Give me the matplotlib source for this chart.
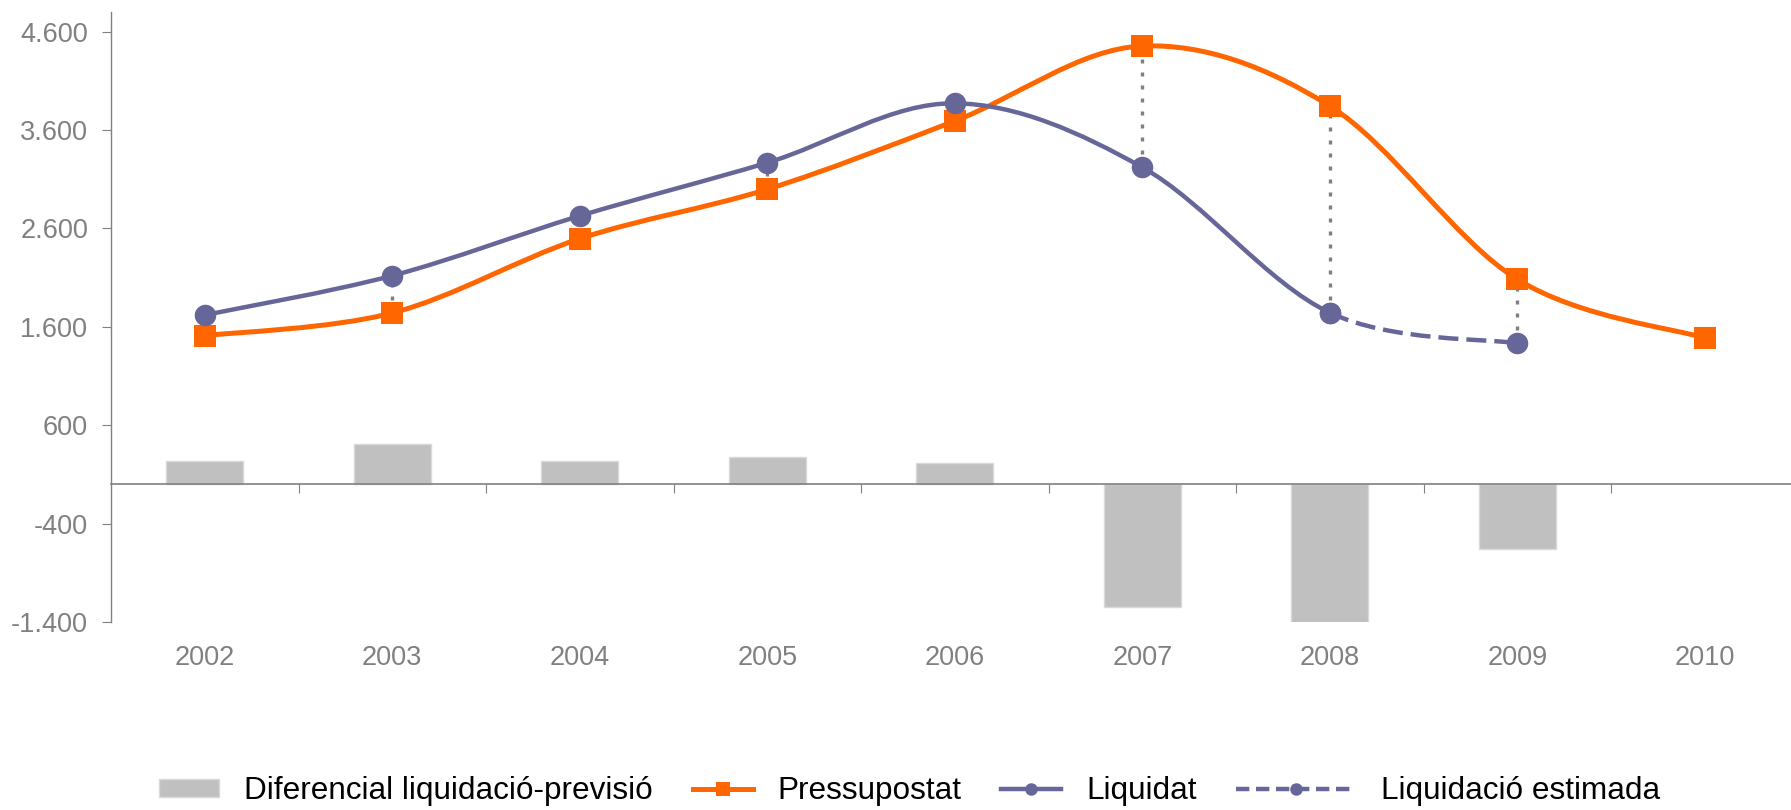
import numpy as np
import matplotlib
matplotlib.use("Agg")
import matplotlib.pyplot as plt
from matplotlib.path import Path
from matplotlib.patches import PathPatch, Patch
from matplotlib.lines import Line2D
from matplotlib.legend_handler import HandlerLine2D

plt.rcParams['font.family'] = ['Liberation Sans', 'DejaVu Sans']

years = ['2002', '2003', '2004', '2005', '2006', '2007', '2008', '2009', '2010']
pressupostat = [1510, 1741, 2496, 2998, 3692, 4454, 3845, 2083, 1487]
liquidat = [1720, 2120, 2728, 3268, 3872, 3222, 1744]          # 2002-2008
liquidacio_estimada = [1744, 1433]                            # 2008-2009
diferencial = [235, 412, 233, 280, 212, -1244, -1437, -658]   # 2002-2009

yticks = [-1400, -400, 600, 1600, 2600, 3600, 4600]

ORANGE = '#FF6600'
PURPLE = '#666699'
GREY_BAR = '#C0C0C0'
GREY_TXT = '#808080'


def bezier_segments(xs, ys):
    # smoothed line like the spreadsheet's "smoothed line" option
    pts = np.column_stack([xs, ys]).astype(float)
    n = len(pts)
    segs = []
    for i in range(n - 1):
        p0 = pts[max(i - 1, 0)]
        p1 = pts[i]
        p2 = pts[i + 1]
        p3 = pts[min(i + 2, n - 1)]
        segs.append((p1, p1 + (p2 - p0) / 6, p2 - (p3 - p1) / 6, p2))
    return segs


def segs_to_path(segs):
    verts = [segs[0][0]]
    codes = [Path.MOVETO]
    for s in segs:
        verts += [s[1], s[2], s[3]]
        codes += [Path.CURVE4] * 3
    return Path(verts, codes)


class WideHandler(HandlerLine2D):
    # legend key twice as long (dashed entry)
    def __init__(self, factor=2.0, **kw):
        super().__init__(**kw)
        self.factor = factor

    def legend_artist(self, legend, orig_handle, fontsize, handlebox):
        handlebox.width *= self.factor
        return super().legend_artist(legend, orig_handle, fontsize, handlebox)


fig = plt.figure(figsize=(17.91, 8.10), dpi=100)
ax = fig.add_axes([111 / 1791, 1 - 622 / 810, 1 - 111 / 1791, (622 - 12.3) / 810])

x = np.arange(len(years))

# bars
ax.bar(x[:len(diferencial)], diferencial, width=0.41, color=GREY_BAR,
       edgecolor='#D9D9D9', linewidth=1, zorder=2)

# high-low dotted lines between budget and actual
actual_all = liquidat + liquidacio_estimada[1:]
for i, v in enumerate(actual_all):
    lo, hi = sorted([v, pressupostat[i]])
    ax.plot([i, i], [lo, hi], color=GREY_TXT, lw=2.4,
            linestyle=(0, (1.2, 2.7)), zorder=3)

# Pressupostat smoothed line
segs_p = bezier_segments(x, pressupostat)
ax.add_patch(PathPatch(segs_to_path(segs_p), facecolor='none', edgecolor=ORANGE,
                       lw=3.6, joinstyle='round', capstyle='butt', zorder=4))

# Liquidat (solid) + Liquidació estimada (dashed) from one smoothed curve
segs_l = bezier_segments(x[:len(actual_all)], actual_all)
n_solid = len(liquidat) - 1
ax.add_patch(PathPatch(segs_to_path(segs_l[:n_solid]), facecolor='none', edgecolor=PURPLE,
                       lw=3.2, joinstyle='round', capstyle='butt', zorder=4))
ax.add_patch(PathPatch(segs_to_path(segs_l[n_solid:]), facecolor='none', edgecolor=PURPLE,
                       lw=3.2, linestyle=(0, (4.5, 1.8)), joinstyle='round', zorder=4))

# markers
ax.plot(x, pressupostat, 's', color=ORANGE, markersize=15.5, markeredgewidth=0, zorder=5)
ax.plot(x[:len(liquidat)], liquidat, 'o', color=PURPLE, markersize=15.5, markeredgewidth=0, zorder=5)
ax.plot(x[len(liquidat) - 1:len(actual_all)], liquidacio_estimada, 'o', color=PURPLE,
        markersize=15.5, markeredgewidth=0, zorder=5)

# axes styling
ax.set_xlim(-0.5, 8.46)
ax.set_ylim(-1400, 4797)
ax.spines['top'].set_visible(False)
ax.spines['right'].set_visible(False)
ax.spines['left'].set_color(GREY_TXT)
ax.spines['left'].set_linewidth(1.0)
ax.spines['bottom'].set_position(('data', 0))
ax.spines['bottom'].set_color(GREY_TXT)
ax.spines['bottom'].set_linewidth(1.2)

ax.set_yticks(yticks)
ax.set_yticklabels([f'{v:,}'.replace(',', '.') for v in yticks])
ax.tick_params(axis='y', length=6.5, width=0.8, color=GREY_TXT, labelcolor=GREY_TXT,
               labelsize=19.5, pad=10)

ax.set_xticks(x)
ax.set_xticklabels(years)
ax.set_xticks(np.arange(0.5, 8, 1), minor=True)
ax.tick_params(axis='x', which='major', length=0, labelcolor=GREY_TXT,
               labelsize=19.5, pad=116)
ax.tick_params(axis='x', which='minor', length=6.5, width=0.8, color=GREY_TXT)

# legend
h_bar = Patch(facecolor=GREY_BAR, edgecolor='#D9D9D9')
h_pres = Line2D([], [], color=ORANGE, lw=3.6, marker='s', markersize=10, markeredgewidth=0)
h_liq = Line2D([], [], color=PURPLE, lw=3.2, marker='o', markersize=9, markeredgewidth=0)
h_est = Line2D([], [], color=PURPLE, lw=3.2, marker='o', markersize=9, markeredgewidth=0,
               linestyle=(0, (3.0, 1.5)))
labels = ['Diferencial liquidació-previsió', 'Pressupostat', 'Liquidat', 'Liquidació estimada']
fig.legend([h_bar, h_pres, h_liq, h_est], labels, loc='center',
           bbox_to_anchor=(0.508, 1 - 791 / 810), ncol=4,
           frameon=False, fontsize=22.7, handlelength=1.9, handleheight=0.5,
           handletextpad=0.8, columnspacing=1.25,
           handler_map={h_est: WideHandler(2.0)})

fig.savefig('out.png', dpi=100)
plt.close(fig)
